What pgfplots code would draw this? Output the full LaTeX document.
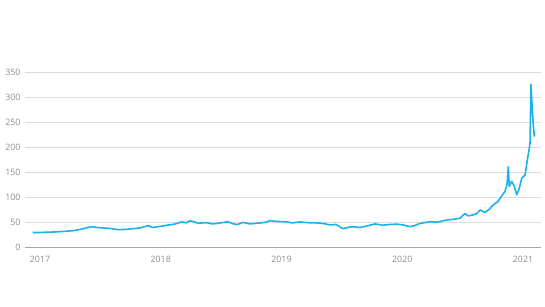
\documentclass[border=0pt]{standalone}
\usepackage{pgfplots}
\pgfplotsset{compat=1.18}
\usepackage{fontspec}
\setmainfont{Open Sans}
\definecolor{linec}{HTML}{1AB3EA}
\definecolor{txt}{HTML}{8C8C8C}
\definecolor{gridc}{HTML}{DCDCDC}
\definecolor{axc}{HTML}{A6A6A6}
\begin{document}
\begin{tikzpicture}[x=1pt,y=1pt]
\useasboundingbox (-25,-59.5) rectangle (520,247.5);
\begin{axis}[
  at={(0,0)}, anchor=south west,
  scale only axis, width=516pt, height=175.5pt,
  xmin=2016.876, xmax=2021.149, ymin=0, ymax=350,
  xtick={2017,2018,2019,2020,2021},
  xticklabels={2017,2018,2019,2020,2021},
  ytick={0,50,100,150,200,250,300,350},
  ymajorgrids, major grid style={gridc, line width=0.8pt},
  axis x line*=bottom, axis y line*=left,
  x axis line style={axc, line width=1.1pt, -},
  y axis line style={draw=none},
  major tick length=0pt,
  tick label style={font=\fontsize{8.8}{10}\selectfont, text=txt},
  /pgf/number format/assume math mode=true,
  /pgf/number format/1000 sep={},
  xticklabel style={yshift=-5.5pt},
  yticklabel style={xshift=-1pt},
  clip=false,
]
\addplot[linec, line width=1.6pt, line join=round] coordinates {
(2016.940,30)(2017.000,30)(2017.060,30.5)(2017.124,31)(2017.190,32)(2017.248,33)
(2017.290,34)(2017.331,36)(2017.381,39)(2017.428,41.5)(2017.472,40)(2017.522,39)
(2017.580,38)(2017.646,35.5)(2017.704,36)(2017.770,37.5)(2017.828,39)(2017.894,43.5)
(2017.936,40)(2017.994,42)(2018.052,44.5)(2018.101,46)(2018.143,48.5)(2018.176,51.5)
(2018.209,49)(2018.242,53.5)(2018.275,51)(2018.308,48.5)(2018.383,49.5)(2018.424,47)
(2018.466,48)(2018.507,49.5)(2018.557,51.5)(2018.590,48)(2018.631,45.5)(2018.681,50)
(2018.739,47)(2018.822,49)(2018.863,50)(2018.905,53.5)(2018.963,52)(2019.046,51)
(2019.087,49)(2019.153,51)(2019.219,49.5)(2019.294,49)(2019.344,48)(2019.402,45)
(2019.451,46)(2019.509,37.5)(2019.551,40)(2019.592,41.5)(2019.650,40)(2019.708,43)
(2019.774,47)(2019.841,44.5)(2019.899,46)(2019.957,46.5)(2020.006,45)(2020.064,41.5)
(2020.106,44)(2020.147,48)(2020.230,51.5)(2020.288,50.5)(2020.371,55)(2020.420,56)
(2020.478,58.5)(2020.520,68)(2020.545,63)(2020.586,65)(2020.619,68)(2020.644,75)
(2020.685,70)(2020.719,76)(2020.754,85)(2020.793,92)(2020.824,103)(2020.851,112)
(2020.867,125)(2020.878,161)(2020.886,122)(2020.906,132)(2020.928,122)(2020.948,105)
(2020.969,118)(2020.989,138)(2021.017,145)(2021.036,175)(2021.050,195)(2021.058,208)
(2021.066,325)(2021.077,275)(2021.085,245)(2021.094,221)
};
\end{axis}
\end{tikzpicture}
\end{document}
